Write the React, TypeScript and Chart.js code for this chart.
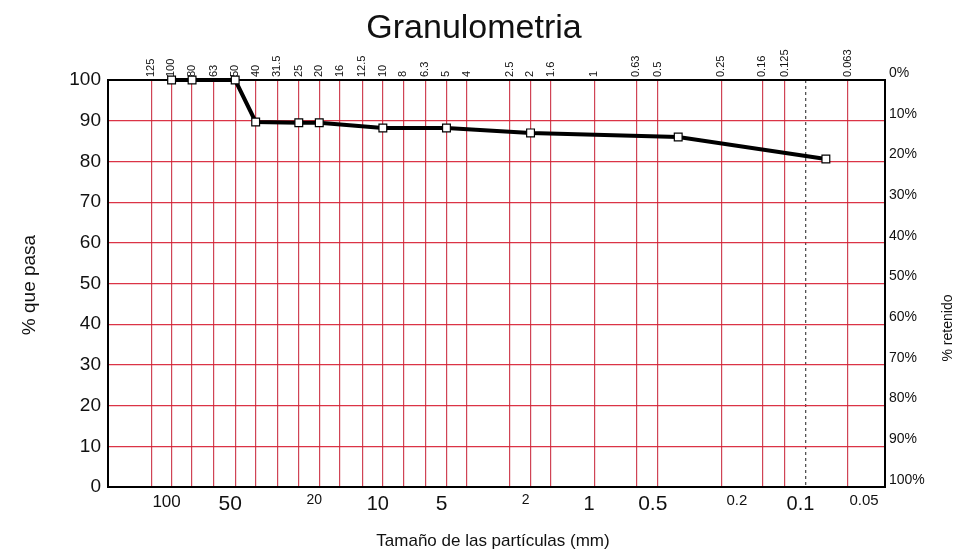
import React, { useEffect, useRef } from "react";
import { Chart, registerables } from "chart.js";

Chart.register(...registerables);

// Sieve openings shown on the top axis (mm)
const sieveSizes = [125, 100, 80, 63, 50, 40, 31.5, 25, 20, 16, 12.5, 10, 8, 6.3, 5, 4, 2.5, 2, 1.6, 1, 0.63, 0.5, 0.25, 0.16, 0.125, 0.063];
const sieveLabels = ["125", "100", "80", "63", "50", "40", "31.5", "25", "20", "16", "12.5", "10", "8", "6.3", "5", "4", "2.5", "2", "1.6", "1", "0.63", "0.5", "0.25", "0.16", "0.125", "0.063"];

// Bottom axis ticks (mm)
const bottomTicks = [100, 50, 20, 10, 5, 2, 1, 0.5, 0.2, 0.1, 0.05];
const bottomLabels = ["100", "50", "20", "10", "5", "2", "1", "0.5", "0.2", "0.1", "0.05"];
const bottomFontSizes = [17, 21, 14, 20, 21, 14, 20, 21, 15, 20, 15];

// Extra dotted reference line
const dottedTicks = [0.1];

// Measured curve
const particleSizes = [100, 80, 50, 40, 25, 20, 10, 5, 2, 0.4, 0.08];
const percentPassing = [100, 100, 100, 89.7, 89.5, 89.5, 88.2, 88.2, 87, 86, 80.6];

const X_MIN = 0.042;
const X_MAX = 200;
const FONT = "'Liberation Sans', Arial, sans-serif";

const textPlugin = {
  id: "customTexts",
  afterDraw(chart: any) {
    const ctx = chart.ctx;
    ctx.save();
    ctx.fillStyle = "#111";
    ctx.textAlign = "center";
    ctx.textBaseline = "alphabetic";
    ctx.font = `34px ${FONT}`;
    ctx.fillText("Granulometria", 474, 38);

    ctx.textBaseline = "middle";
    ctx.font = `17px ${FONT}`;
    ctx.fillText("Tamaño de las partículas (mm)", 493, 541);

    ctx.save();
    ctx.translate(30, 285);
    ctx.rotate(-Math.PI / 2);
    ctx.font = `19px ${FONT}`;
    ctx.fillText("% que pasa", 0, 0);
    ctx.restore();

    ctx.save();
    ctx.translate(948, 328);
    ctx.rotate(-Math.PI / 2);
    ctx.font = `14px ${FONT}`;
    ctx.fillText("% retenido", 0, 0);
    ctx.restore();

    ctx.restore();
  },
};

export default function App() {
  const canvasRef = useRef<HTMLCanvasElement | null>(null);

  useEffect(() => {
    if (!canvasRef.current) return;
    const points = particleSizes.map((x, i) => ({ x, y: percentPassing[i] }));
    const redGrid = "rgba(200,35,55,0.85)";

    const chart = new Chart(canvasRef.current, {
      type: "line",
      data: {
        datasets: [
          {
            data: points,
            xAxisID: "x",
            yAxisID: "y",
            borderColor: "#000",
            borderWidth: 4,
            tension: 0,
            pointStyle: "rect",
            pointRadius: 5.5,
            pointBackgroundColor: "#fff",
            pointBorderColor: "#000",
            pointBorderWidth: 1.2,
            clip: false,
          } as any,
        ],
      },
      options: {
        animation: false,
        responsive: false,
        maintainAspectRatio: false,
        layout: { padding: 0 },
        plugins: {
          legend: { display: false },
          tooltip: { enabled: false },
          title: { display: false },
        },
        scales: {
          x: {
            type: "logarithmic",
            position: "bottom",
            reverse: true,
            min: X_MIN,
            max: X_MAX,
            afterBuildTicks: (scale: any) => {
              scale.ticks = bottomTicks.map((v) => ({ value: v }));
            },
            afterFit: (scale: any) => {
              scale.height = 67;
            },
            grid: { display: false, drawTicks: false },
            border: { display: true, color: "#000", width: 2 },
            ticks: {
              autoSkip: false,
              maxRotation: 0,
              minRotation: 0,
              padding: 5,
              labelOffset: -5,
              color: "#111",
              font: (ctx: any) => ({ family: FONT, size: bottomFontSizes[ctx.index] ?? 16 }),
              callback: (_v: any, i: number) => bottomLabels[i],
            },
          },
          x3: {
            type: "logarithmic",
            position: "bottom",
            reverse: true,
            min: X_MIN,
            max: X_MAX,
            afterBuildTicks: (scale: any) => {
              scale.ticks = dottedTicks.map((v) => ({ value: v }));
            },
            afterFit: (scale: any) => {
              scale.height = 0;
            },
            grid: { display: true, drawTicks: false, color: "rgba(40,40,40,0.8)", lineWidth: 1.3 },
            border: { display: false, dash: [3, 3] },
            ticks: { display: false },
          },
          x2: {
            type: "logarithmic",
            position: "top",
            reverse: true,
            min: X_MIN,
            max: X_MAX,
            afterBuildTicks: (scale: any) => {
              scale.ticks = sieveSizes.map((v) => ({ value: v }));
            },
            afterFit: (scale: any) => {
              scale.height = 80;
            },
            grid: { display: true, drawTicks: false, color: redGrid, lineWidth: 1.2 },
            border: { display: true, color: "#000", width: 2 },
            ticks: {
              autoSkip: false,
              maxRotation: 90,
              minRotation: 90,
              padding: 3,
              labelOffset: 13,
              color: "#111",
              font: { family: FONT, size: 11 },
              callback: (_v: any, i: number) => sieveLabels[i],
            },
          },
          y: {
            type: "linear",
            position: "left",
            min: 0,
            max: 100,
            afterFit: (scale: any) => {
              scale.width = 108;
            },
            grid: {
              drawTicks: false,
              color: (ctx: any) => (ctx.tick && (ctx.tick.value === 0 || ctx.tick.value === 100) ? "rgba(0,0,0,0)" : "rgba(215,30,50,0.9)"),
              lineWidth: 1.2,
            },
            border: { display: true, color: "#000", width: 2 },
            ticks: {
              stepSize: 10,
              padding: 7,
              color: "#111",
              font: { family: FONT, size: 19 },
              callback: (v: any) => String(v),
            },
          },
          y2: {
            type: "linear",
            position: "right",
            min: 0,
            max: 100,
            reverse: true,
            afterFit: (scale: any) => {
              scale.width = 72;
            },
            grid: { display: false, drawTicks: false },
            border: { display: true, color: "#000", width: 2 },
            ticks: {
              stepSize: 10,
              padding: 4,
              labelOffset: -7,
              color: "#111",
              font: { family: FONT, size: 14 },
              callback: (v: any) => `${v}%`,
            },
          },
        },
      } as any,
      plugins: [textPlugin],
    });

    return () => chart.destroy();
  }, []);

  return (
    <div style={{ position: "fixed", left: 0, top: 0, width: 957, height: 554, background: "#fff" }}>
      <canvas ref={canvasRef} width={957} height={554} style={{ width: 957, height: 554, display: "block" }} />
    </div>
  );
}
